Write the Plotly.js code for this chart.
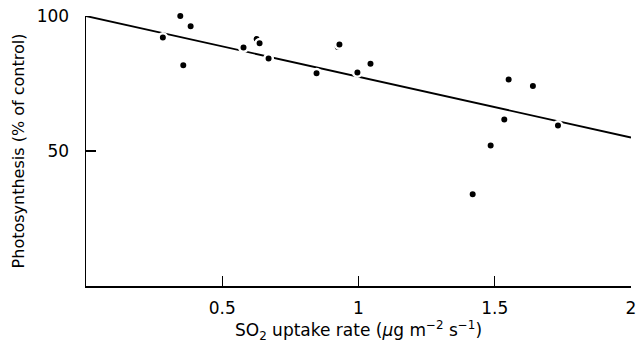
<!DOCTYPE html>
<html>
<head>
<meta charset="utf-8">
<script src="https://cdn.plot.ly/plotly-3.0.1.min.js"></script>
<style>html,body{margin:0;padding:0;background:#fff;}#chart{width:638px;height:347px;}</style>
</head>
<body>
<div id="chart"></div>
<script>
// SO2 uptake rate (µg m-2 s-1) and photosynthesis (% of control)
var uptakeRate = [0.282, 0.346, 0.357, 0.384, 0.578, 0.626, 0.637, 0.670, 0.846, 0.924, 0.930, 0.996, 1.044, 1.419, 1.485, 1.535, 1.551, 1.640, 1.732];
var photosynthesis = [92.0, 100.0, 81.8, 96.2, 88.3, 91.5, 89.9, 84.3, 78.8, 88.5, 89.4, 79.1, 82.3, 34.0, 52.0, 61.7, 76.5, 74.1, 59.4];
// regression line end points
var fitX = [0, 2];
var fitY = [100, 55];
var xTicks = [0.5, 1, 1.5, 2];
var xTickText = ['0.5', '1', '1.5', '2'];
var yTicks = [50, 100];
var yTickText = ['50', '100'];

var font = 'DejaVu Sans, Verdana, sans-serif';
var traces = [
  {x: fitX, y: fitY, mode: 'lines', type: 'scatter', line: {color: '#000', width: 1.8}, hoverinfo: 'skip', cliponaxis: false},
  {x: uptakeRate, y: photosynthesis, mode: 'markers', type: 'scatter', cliponaxis: false,
   marker: {color: '#000', size: 8.5, line: {color: '#fff', width: 2.5}}}
];
var layout = {
  width: 638, height: 347,
  margin: {l: 86, r: 7, t: 16, b: 61},
  showlegend: false,
  paper_bgcolor: '#fff', plot_bgcolor: '#fff',
  font: {family: font, color: '#000'},
  xaxis: {
    range: [0, 2], showgrid: false, zeroline: false,
    showline: true, linecolor: '#000', linewidth: 1.5,
    tickmode: 'array', tickvals: xTicks, ticktext: xTickText,
    ticks: 'inside', ticklen: 10, tickwidth: 1.3, tickcolor: '#000',
    tickfont: {size: 17, family: font}, ticklabelstandoff: 6,
    title: {text: 'SO<sub>2</sub> uptake rate (<i>μ</i>g m<sup>−2</sup> s<sup>−1</sup>)', font: {size: 17, family: font}, standoff: 6}
  },
  yaxis: {
    range: [0, 100], showgrid: false, zeroline: false,
    showline: true, linecolor: '#000', linewidth: 1.5,
    tickmode: 'array', tickvals: yTicks, ticktext: yTickText,
    ticks: 'inside', ticklen: 10, tickwidth: 1.3, tickcolor: '#000',
    tickfont: {size: 17, family: font}, ticklabelstandoff: 12,
    title: {text: 'Photosynthesis (% of control)', font: {size: 16, family: font}, standoff: 8}
  }
};
Plotly.newPlot('chart', traces, layout, {staticPlot: true, displayModeBar: false});
</script>
</body>
</html>
